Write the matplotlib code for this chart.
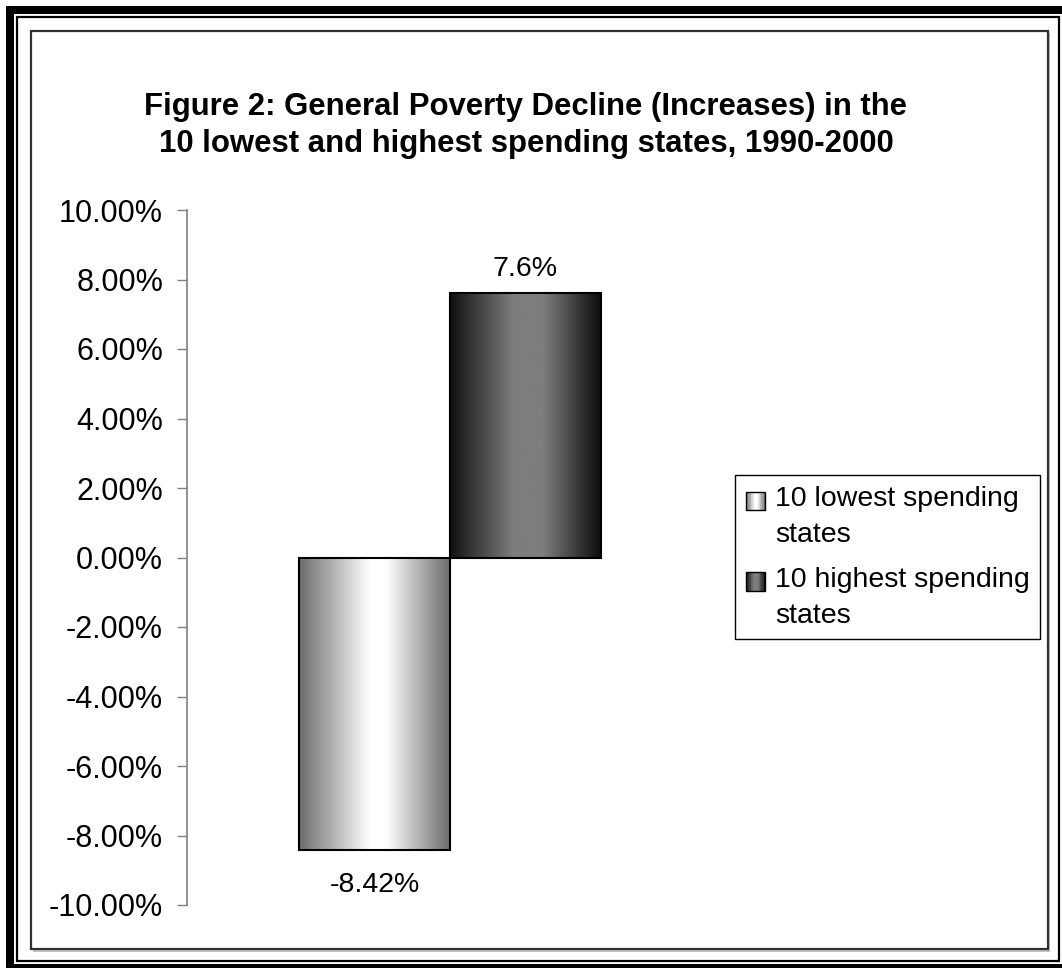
import numpy as np
import matplotlib
matplotlib.use("Agg")
import matplotlib.pyplot as plt
from matplotlib.colors import LinearSegmentedColormap
from matplotlib.patches import Rectangle
from matplotlib.legend_handler import HandlerBase
from matplotlib.ticker import FuncFormatter

# ---- data -------------------------------------------------------------
series_names = ["10 lowest spending\nstates", "10 highest spending\nstates"]
series_values = [-8.42, 7.6]          # percent change in poverty, 1990-2000
value_formats = ["{:.2f}%", "{:.1f}%"]
y_ticks = [-10, -8, -6, -4, -2, 0, 2, 4, 6, 8, 10]
title = ("Figure 2: General Poverty Decline (Increases) in the\n"
         "10 lowest and highest spending states, 1990-2000")

# ---- styling ----------------------------------------------------------
plt.rcParams["font.family"] = ["Liberation Sans", "DejaVu Sans"]
plt.rcParams["axes.unicode_minus"] = False
FS = 20.5
LEG_LINESPACING = 1.5
W, H = 1062, 968

light_cmap = LinearSegmentedColormap.from_list(
    "light", [(0.0, "#6c6c6c"), (0.47, "#ffffff"), (0.58, "#ffffff"), (1.0, "#6c6c6c")])
dark_cmap = LinearSegmentedColormap.from_list(
    "dark", [(0.0, "#101010"), (0.42, "#7d7d7d"), (0.62, "#7d7d7d"), (1.0, "#0c0c0c")])
cmaps = [light_cmap, dark_cmap]

fig = plt.figure(figsize=(W / 100, H / 100), dpi=100)
fig.patch.set_facecolor("white")

# decorative frame drawn in pixel space
frame = fig.add_axes([0, 0, 1, 1], zorder=-5)
frame.set_xlim(0, W)
frame.set_ylim(H, 0)
frame.axis("off")
# thick outer band
frame.add_patch(Rectangle((6, 6), W, 8, facecolor="black", lw=0))
frame.add_patch(Rectangle((6, 6), 8, H, facecolor="black", lw=0))
frame.add_patch(Rectangle((6, 964), W, 8, facecolor="black", lw=0))
# thin inner line of the double border
frame.add_patch(Rectangle((17, 17), 1058.5 - 17, 961 - 17, fill=False,
                          edgecolor="black", lw=1.6))
# chart area border with soft shadow
frame.add_patch(Rectangle((33, 33), 1048 - 31, 950 - 31, facecolor="#c0c0c0",
                          edgecolor="none", lw=0))
frame.add_patch(Rectangle((30.5, 30.5), 1048 - 31, 949 - 31, facecolor="white",
                          edgecolor="#303030", lw=1.6))

# ---- plot area --------------------------------------------------------
left, right, top, bottom = 187, 713, 210, 905
ax = fig.add_axes([left / W, 1 - bottom / H, (right - left) / W, (bottom - top) / H])
ax.set_facecolor("none")

bar_w = 0.287
offsets = [-bar_w / 2, bar_w / 2]
containers = []
for name, val, off, cmap in zip(series_names, series_values, offsets, cmaps):
    bc = ax.bar([off], [val], width=bar_w, facecolor="none", edgecolor="black",
                lw=1.5, label=name, zorder=3)
    containers.append(bc)
    for patch in bc:
        x0, w = patch.get_x(), patch.get_width()
        y0, h = patch.get_y(), patch.get_height()
        grad = np.linspace(0, 1, 256)[None, :]
        im = ax.imshow(grad, cmap=cmap, aspect="auto", interpolation="bicubic",
                       extent=[x0, x0 + w, min(y0, y0 + h), max(y0, y0 + h)],
                       zorder=2)
        im.set_clip_path(patch)

ax.bar_label(containers[0], fmt=value_formats[0], padding=16, fontsize=FS)
ax.bar_label(containers[1], fmt=value_formats[1], padding=8, fontsize=FS)

ax.set_xlim(-0.5, 0.5)
ax.set_ylim(y_ticks[0], y_ticks[-1])
ax.set_yticks(y_ticks)
ax.yaxis.set_major_formatter(FuncFormatter(lambda v, _: f"{v:.2f}%"))
ax.tick_params(axis="y", direction="out", length=7.2, width=1, color="#808080",
               pad=10, labelsize=22, labelcolor="black")
ax.tick_params(axis="x", bottom=False, labelbottom=False)
for s in ["top", "right", "bottom"]:
    ax.spines[s].set_visible(False)
ax.spines["left"].set_color("#808080")
ax.spines["left"].set_linewidth(1.2)


# ---- legend with gradient swatches ------------------------------------
class GradientSwatch(HandlerBase):
    """Small gradient-filled square placed beside the first line of a label."""

    def __init__(self, cmap, n_lines):
        super().__init__()
        self.cmap = cmap
        self.n_lines = n_lines

    def legend_artist(self, legend, orig_handle, fontsize, handlebox):
        w = handlebox.width
        x0, y0 = -handlebox.xdescent, -handlebox.ydescent
        line_pitch = 1.2 * LEG_LINESPACING * 0.82 * fontsize
        side = 0.64 * fontsize
        sy = y0 + (self.n_lines - 1) * line_pitch - 0.88 * fontsize
        tr = handlebox.get_transform()
        n = 24
        arts = []
        for i in range(n):
            arts.append(Rectangle((x0 + i * w / n, sy), w / n + 0.2, side,
                                  facecolor=self.cmap((i + 0.5) / n), lw=0,
                                  transform=tr))
        arts.append(Rectangle((x0, sy), w, side, fill=False, edgecolor="black",
                              lw=1.0, transform=tr))
        for a in arts:
            handlebox.add_artist(a)
        return arts[-1]


handles = [c.patches[0] for c in containers]
leg = fig.legend(handles, series_names,
                 handler_map={h: GradientSwatch(cm, name.count("\n") + 1)
                              for h, cm, name in zip(handles, cmaps, series_names)},
                 loc="upper left", bbox_to_anchor=(735 / W, 1 - 475 / H),
                 bbox_transform=fig.transFigure, borderaxespad=0,
                 fontsize=FS, frameon=True, fancybox=False, shadow=False,
                 framealpha=1, edgecolor="black", borderpad=0.38,
                 handlelength=0.68, handleheight=0.7, handletextpad=0.34,
                 labelspacing=0.66)
leg.get_frame().set_linewidth(1.0)
for t in leg.get_texts():
    t.set_linespacing(LEG_LINESPACING)

# ---- title ------------------------------------------------------------
fig.text(526 / W, 1 - 125.5 / H, title, ha="center", va="center",
         fontsize=22.4, fontweight="bold", linespacing=1.33)

fig.savefig("out.png", dpi=100, facecolor="white")
